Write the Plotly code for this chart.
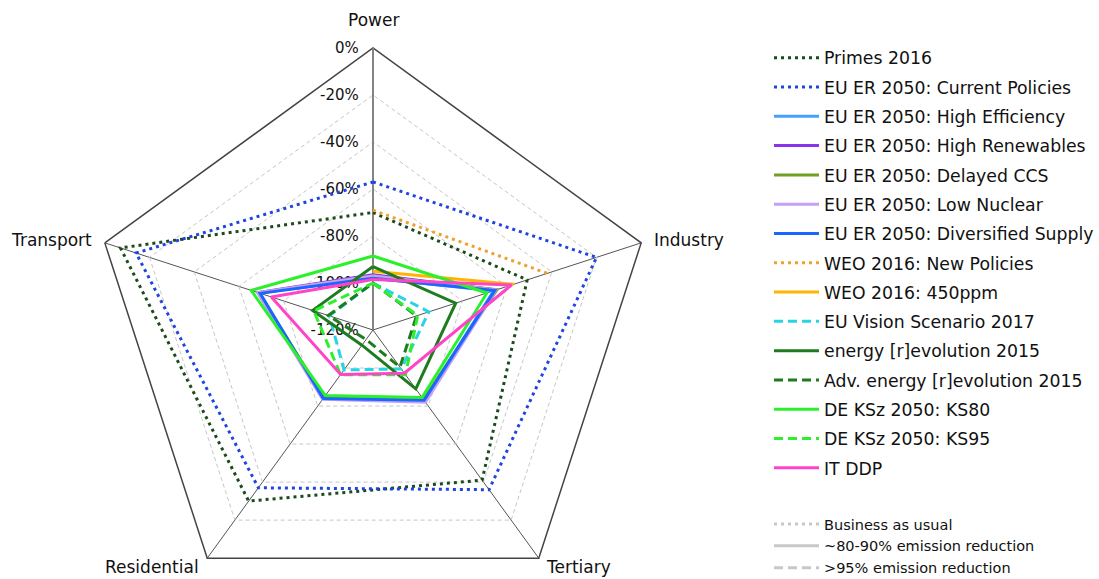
import plotly.graph_objects as go

# ---------------- data ----------------
categories = ["Power", "Industry", "Tertiary", "Residential", "Transport"]
radial_tick_values = [-120, -100, -80, -60, -40, -20, 0]
radial_tick_labels = ["-120%", "-100%", "-80%", "-60%", "-40%", "-20%", "0%"]

series_names = [
    "Primes 2016",
    "EU ER 2050: Current Policies",
    "EU ER 2050: High Efficiency",
    "EU ER 2050: High Renewables",
    "EU ER 2050: Delayed CCS",
    "EU ER 2050: Low Nuclear",
    "EU ER 2050: Diversified Supply",
    "WEO 2016: New Policies",
    "WEO 2016: 450ppm",
    "EU Vision Scenario 2017",
    "energy [r]evolution 2015",
    "Adv. energy [r]evolution 2015",
    "DE KSz 2050: KS80",
    "DE KSz 2050: KS95",
    "IT DDP",
]

# emission change vs. 1990 (%), order: Power, Industry, Tertiary, Residential, Transport
primes_2016 = [-70, -51, -41, -30, -7]
eu_er_current_policies = [-57, -20, -36, -37, -14]
eu_er_high_efficiency = [-98, -66, -83, -84, -69]
eu_er_high_renewables = [-96.5, -65, -83, -84, -68.5]
eu_er_delayed_ccs = [-97, -64.5, -83.5, -84.5, -69]
eu_er_low_nuclear = [-97, -65, -82, -83.5, -68.5]
eu_er_diversified_supply = [-98, -65.5, -83, -84, -69.5]
weo_new_policies = [-69, -42, None, None, None]
weo_450ppm = [-95, -57, None, None, None]
eu_vision_2017 = [-100, -95, -99.5, -99, -100.5]
energy_revolution_2015 = [-93, -83, -89, -112, -93]
adv_energy_revolution_2015 = [-100, -100.5, -100.5, -115, -100]
de_ksz_ks80 = [-88.5, -69, -84.5, -85.5, -65.5]
de_ksz_ks95 = [-100, -100, -96.5, -96.5, -93.5]
it_ddp = [-98.5, -58, -97.3, -96.6, -74.5]

key_names = ["Business as usual", "~80-90% emission reduction", ">95% emission reduction"]

series_values = [
    primes_2016, eu_er_current_policies, eu_er_high_efficiency, eu_er_high_renewables,
    eu_er_delayed_ccs, eu_er_low_nuclear, eu_er_diversified_supply, weo_new_policies,
    weo_450ppm, eu_vision_2017, energy_revolution_2015, adv_energy_revolution_2015,
    de_ksz_ks80, de_ksz_ks95, it_ddp,
]

# ---------------- styles ----------------
DOT = "3px,4px"
DASH = "9px,5px"
series_styles = [
    ("#1c4a1c", DOT), ("#1f44e0", DOT), ("#45a0ff", "solid"), ("#8a33ea", "solid"),
    ("#72a024", "solid"), ("#c6a0f2", "solid"), ("#1a66ff", "solid"), ("#f0a030", DOT),
    ("#ffb400", "solid"), ("#28d4e4", DASH), ("#1e7c1e", "solid"), ("#1e7c1e", DASH),
    ("#2cf02c", "solid"), ("#2cf02c", DASH), ("#ff44c8", "solid"),
]
key_styles = [("#c8c8c8", DOT), ("#c8c8c8", "solid"), ("#c8c8c8", DASH)]

FONT = "DejaVu Sans"
W, H = 1099, 612
CX, CY, R = 373, 330, 282

# category label placement (pixel anchor, xanchor)
label_layout = {
    "Power": (373, 20, "center"),
    "Industry": (652, 240, "left"),
    "Tertiary": (544, 567, "left"),
    "Residential": (201, 567, "right"),
    "Transport": (94, 240, "right"),
}

fig = go.Figure()
theta_closed = categories + categories[:1]

for name, vals, (color, dash) in zip(series_names, series_values, series_styles):
    fig.add_trace(go.Scatterpolar(
        r=vals + vals[:1], theta=theta_closed, name=name, mode="lines",
        line=dict(color=color, width=3, dash=dash),
        legendgroup=name, legend="legend", connectgaps=False,
    ))

for name, (color, dash) in zip(key_names, key_styles):
    fig.add_trace(go.Scatterpolar(
        r=[None], theta=[None], name=name, mode="lines",
        line=dict(color=color, width=3, dash=dash),
        legend="legend2", showlegend=True,
    ))

for cat in categories:
    px, py, xa = label_layout[cat]
    fig.add_annotation(
        text=cat, x=px / W, y=1 - py / H, xref="paper", yref="paper",
        xanchor=xa, yanchor="middle", showarrow=False,
        font=dict(family=FONT, size=17, color="#111"),
    )

fig.update_layout(
    width=W, height=H,
    margin=dict(l=0, r=0, t=0, b=0),
    paper_bgcolor="white",
    font=dict(family=FONT, size=17, color="#111"),
    polar=dict(
        domain=dict(x=[(CX - R) / W, (CX + R) / W], y=[(H - CY - R) / H, (H - CY + R) / H]),
        gridshape="linear",
        bgcolor="white",
        angularaxis=dict(
            categoryorder="array", categoryarray=categories,
            rotation=90, direction="clockwise",
            showline=True, linecolor="#444", linewidth=1.5,
            showgrid=True, gridcolor="#555", gridwidth=1.3,
            ticks="", showticklabels=False,
            layer="below traces",
        ),
        radialaxis=dict(
            range=[-120, 0], tickvals=radial_tick_values, ticktext=radial_tick_labels,
            angle=90, tickangle=90, side="counterclockwise",
            showline=True, linecolor="#808080", linewidth=1.8,
            showgrid=True, gridcolor="#c6c6c6", gridwidth=1, griddash="4px,3px",
            ticks="outside", ticklen=8, tickcolor="rgba(0,0,0,0)",
            tickfont=dict(family=FONT, size=15, color="#111"),
            layer="below traces",
        ),
    ),
    legend=dict(
        x=769 / W, xanchor="left", y=1 - 40 / H, yanchor="top",
        font=dict(family=FONT, size=17.3, color="#111"),
        tracegroupgap=3.8, itemwidth=45, bgcolor="rgba(0,0,0,0)",
    ),
    legend2=dict(
        x=769 / W, xanchor="left", y=1 - 508 / H, yanchor="top",
        font=dict(family=FONT, size=14.5, color="#111"),
        itemwidth=45, bgcolor="rgba(0,0,0,0)",
    ),
    showlegend=True,
)

fig.write_html(
    "out.html",
    post_script="document.documentElement.style.overflow='hidden';document.body.style.overflow='hidden';document.body.style.margin='0';",
)
